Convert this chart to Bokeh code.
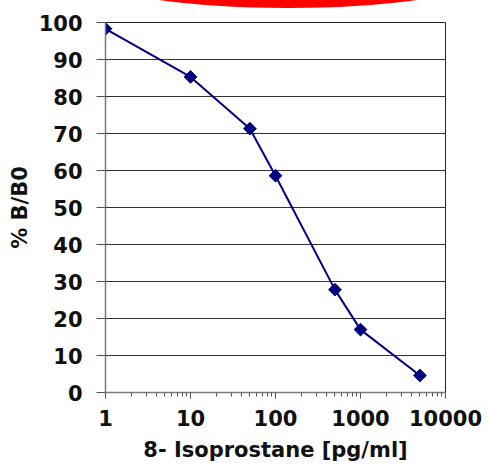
import math
from bokeh.plotting import figure
from bokeh.models import FixedTicker, Range1d, Div, ColumnDataSource
from bokeh.layouts import column
from bokeh.embed import file_html
from bokeh.resources import INLINE

# data
conc = [1, 10, 50, 100, 500, 1000, 5000]
bb0 = [98.3, 85.3, 71.3, 58.6, 27.8, 17.0, 4.6]
x_ticks = [1, 10, 100, 1000, 10000]
x_tick_labels = ["1", "10", "100", "1000", "10000"]
y_ticks = list(range(0, 101, 10))

FONT = "DejaVu Sans"

p = figure(width=488, height=464, x_axis_type="log", output_backend="svg",
           toolbar_location=None, x_range=Range1d(1, 10000), y_range=Range1d(0, 100))
p.min_border_left = 105
p.min_border_right = 43
p.min_border_top = 22
p.min_border_bottom = 72
p.background_fill_color = "white"
p.border_fill_color = "white"
p.outline_line_color = "#222222"
p.outline_line_width = 1

minor = [m * 10 ** e for e in range(0, 4) for m in range(2, 10)]
p.xaxis.ticker = FixedTicker(ticks=x_ticks, minor_ticks=minor)
p.xaxis.major_label_overrides = {t: l for t, l in zip(x_ticks, x_tick_labels)}
p.yaxis.ticker = FixedTicker(ticks=y_ticks)

p.xgrid.visible = False
p.ygrid.grid_line_color = "#333333"
p.ygrid.grid_line_width = 1

for ax in (p.xaxis[0], p.yaxis[0]):
    ax.axis_line_color = "#7a7a7a"
    ax.axis_line_width = 1.5
    ax.major_tick_line_color = "#555555"
    ax.major_tick_in = 0
    ax.major_label_text_font = FONT
    ax.major_label_text_font_style = "bold"
    ax.major_label_text_font_size = "21px"
    ax.major_label_text_color = "#111111"
    ax.axis_label_text_font = FONT
    ax.axis_label_text_font_style = "bold"
    ax.axis_label_text_color = "#111111"

p.xaxis.major_tick_out = 6
p.xaxis.minor_tick_out = 4
p.xaxis.minor_tick_in = 0
p.xaxis.minor_tick_line_color = "#555555"
p.xaxis.major_label_standoff = 11
p.xaxis.axis_label = "8- Isoprostane [pg/ml]"
p.xaxis.axis_label_text_font_size = "21px"
p.xaxis.axis_label_standoff = 9

p.yaxis.major_tick_out = 9
p.yaxis.minor_tick_line_color = None
p.yaxis.major_label_standoff = 14
p.yaxis.axis_label = "% B/B0"
p.yaxis.axis_label_text_font_size = "21px"
p.yaxis.axis_label_standoff = 4

src = ColumnDataSource(dict(x=conc, y=bb0))
p.line("x", "y", source=src, line_color="#000080", line_width=2)
p.scatter("x", "y", source=src, marker="square", size=9, angle=math.pi / 4,
          fill_color="#000080", line_color="#000080")

deco = Div(text='<div style="position:fixed;left:72px;top:-72px;width:432px;height:80px;'
                'border-radius:50%;background:#ff0000;"></div>', width=0, height=0)

layout = column(p, deco)
open("out.html", "w").write(file_html(layout, INLINE))
